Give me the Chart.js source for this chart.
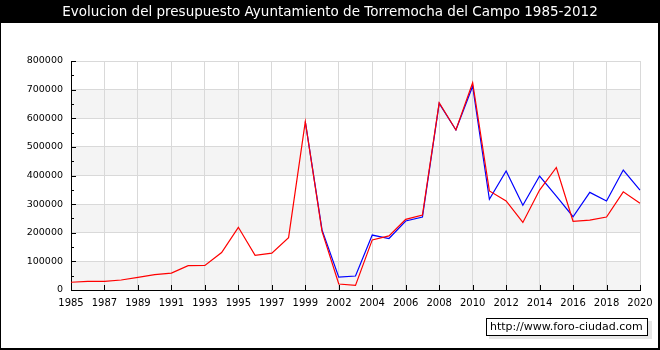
<!DOCTYPE html>
<html>
<head>
<meta charset="utf-8">
<script src="https://cdn.jsdelivr.net/npm/chart.js@4"></script>
<style>
  html, body { margin: 0; padding: 0; background: #000; }
  canvas { display: block; }
</style>
</head>
<body>
<canvas id="budgetChart" width="660" height="350"></canvas>
<script>
// years on the category axis (one year missing between 1999 and 2002)
const years = ['1985','1986','1987','1988','1989','1990','1991','1992','1993','1994',
  '1995','1996','1997','1998','1999','2001','2002','2003','2004','2005','2006','2007',
  '2008','2009','2010','2011','2012','2013','2014','2015','2016','2017','2018','2019','2020'];

// red line
const gastos = [27000, 30000, 30000, 35000, 44000, 54000, 59000, 85000, 86000, 131000,
  219000, 121000, 129000, 183000, 588000, 205000, 21000, 16000, 175000, 189000, 247000, 262000,
  654000, 559000, 724000, 346000, 311000, 236000, 349000, 428000, 240000, 244000, 255000, 343000, 303000];

// blue line
const ingresos = [null, null, null, null, null, null, null, null, null, null,
  null, null, null, null, 588000, 210000, 45000, 49000, 192000, 180000, 241000, 255000,
  652000, 559000, 712000, 317000, 416000, 296000, 398000, 328000, 256000, 341000, 311000, 419000, 349000];

const yTicks = [0, 100000, 200000, 300000, 400000, 500000, 600000, 700000, 800000];

const chartTitle = 'Evolucion del presupuesto Ayuntamiento de Torremocha del Campo 1985-2012';
const watermark = 'http://www.foro-ciudad.com';

const FONT = '"DejaVu Sans", Verdana, sans-serif';

// fondo negro, marco blanco y bandas grises
const framePlugin = {
  id: 'frame',
  beforeDraw(chart) {
    const ctx = chart.ctx;
    const area = chart.chartArea;
    const y = chart.scales.y;
    ctx.save();
    ctx.fillStyle = '#000';
    ctx.fillRect(0, 0, chart.width, chart.height);
    ctx.fillStyle = '#fff';
    ctx.fillRect(1, 23, 657, 325);
    ctx.fillStyle = '#f4f4f4';
    for (let i = 0; i < yTicks.length - 1; i++) {
      if (i % 2 === 0) {
        const top = y.getPixelForValue(yTicks[i + 1]);
        const bottom = y.getPixelForValue(yTicks[i]);
        ctx.fillRect(area.left, top, area.right - area.left, bottom - top);
      }
    }
    ctx.restore();
  },
  afterDraw(chart) {
    const ctx = chart.ctx;
    const area = chart.chartArea;
    const x = chart.scales.x;
    const y = chart.scales.y;
    ctx.save();
    // marcas hacia dentro
    ctx.strokeStyle = '#000';
    ctx.lineWidth = 1;
    ctx.beginPath();
    for (let v = 0; v <= 800000; v += 50000) {
      const py = Math.round(y.getPixelForValue(v)) + 0.5;
      const len = v % 100000 === 0 ? 5 : 3;
      ctx.moveTo(area.left, py);
      ctx.lineTo(area.left + len, py);
    }
    for (let i = 0; i < years.length; i += 2) {
      const px = Math.round(x.getPixelForValue(i)) + 0.5;
      ctx.moveTo(px, area.bottom);
      ctx.lineTo(px, area.bottom - 5);
    }
    ctx.stroke();

    // titulo
    ctx.fillStyle = '#fff';
    ctx.font = '13.5px ' + FONT;
    ctx.textAlign = 'center';
    ctx.textBaseline = 'middle';
    ctx.fillText(chartTitle, 330, 12);

    // marca de agua
    ctx.fillStyle = '#e6e6e6';
    ctx.fillRect(489, 321, 163, 18);
    ctx.fillStyle = '#fff';
    ctx.fillRect(486, 318, 162, 17);
    ctx.strokeStyle = '#000';
    ctx.strokeRect(486.5, 318.5, 161, 17);
    ctx.fillStyle = '#000';
    ctx.font = '11px ' + FONT;
    ctx.textAlign = 'left';
    ctx.fillText(watermark, 490, 327.5);
    ctx.restore();
  }
};

const ctx = document.getElementById('budgetChart').getContext('2d');
new Chart(ctx, {
  type: 'line',
  data: {
    labels: years,
    datasets: [
      { label: 'Gastos', data: gastos, borderColor: '#ff0000', borderWidth: 1.2,
        pointRadius: 0, tension: 0, fill: false },
      { label: 'Ingresos', data: ingresos, borderColor: '#0000ff', borderWidth: 1.2,
        pointRadius: 0, tension: 0, fill: false, spanGaps: false }
    ]
  },
  options: {
    responsive: false,
    animation: false,
    devicePixelRatio: 1,
    layout: { padding: { left: 0, top: 61, right: 20, bottom: 0 } },
    plugins: {
      legend: { display: false },
      tooltip: { enabled: false },
      title: { display: false }
    },
    scales: {
      x: {
        type: 'category',
        offset: false,
        afterFit(scale) { scale.height = 60; },
        border: { display: true, color: '#000', width: 1 },
        grid: {
          drawTicks: false,
          color: c => (c.index % 2 === 0 ? '#d9d9d9' : 'rgba(0,0,0,0)'),
          lineWidth: 1
        },
        ticks: {
          autoSkip: false,
          maxRotation: 0,
          minRotation: 0,
          padding: 7,
          color: '#000',
          font: { family: FONT, size: 10 },
          callback: (v, i) => (i % 2 === 0 ? years[i] : '')
        }
      },
      y: {
        min: 0,
        max: 800000,
        afterFit(scale) { scale.width = 71; },
        border: { display: true, color: '#000', width: 1 },
        grid: { drawTicks: false, color: '#d9d9d9', lineWidth: 1 },
        ticks: {
          stepSize: 100000,
          padding: 8,
          color: '#000',
          font: { family: FONT, size: 9.5 },
          callback: v => String(v)
        }
      }
    }
  },
  plugins: [framePlugin]
});
</script>
</body>
</html>
